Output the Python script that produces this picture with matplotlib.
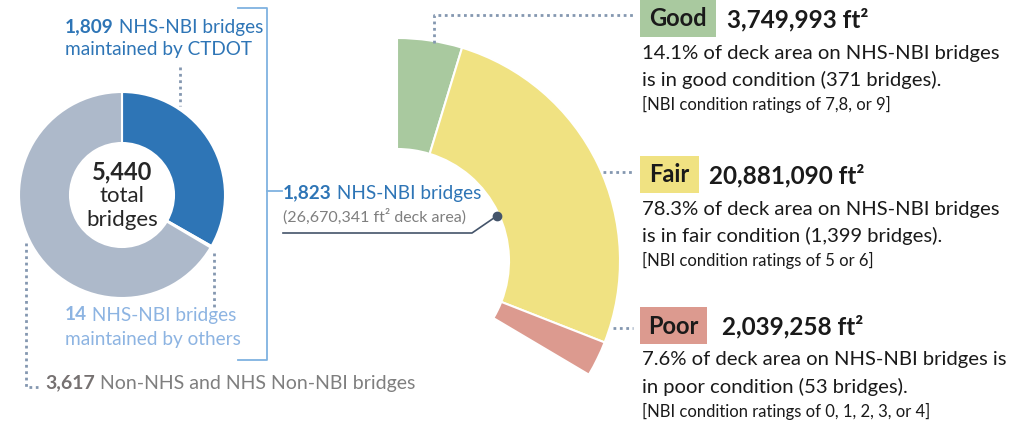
import matplotlib
matplotlib.use('Agg')
import matplotlib.pyplot as plt
import numpy as np
from matplotlib.patches import Rectangle

plt.rcParams['font.family'] = ['Lato', 'DejaVu Sans']

# data
total_bridges = 5440
donut_counts = [1809, 14, 3617]
nhs_nbi_bridges = 1823
deck_area_total = 26670341
condition_names = ['Good', 'Fair', 'Poor']
condition_area = [3749993, 20881090, 2039258]
condition_pct = [14.1, 78.3, 7.6]
condition_bridges = [371, 1399, 53]
condition_ratings = ['7,8, or 9', '5 or 6', '0, 1, 2, 3, or 4']

donut_colors = ['#2E75B6', '#5B9BD5', '#ADB9CA']
condition_colors = ['#A9C99F', '#F0E282', '#DC9A8F']
BLUE = '#2E75B6'
LIGHT_BLUE = '#8DB4E2'
GRAY = '#767171'
DOT = '#8497B0'

W, H = 1018, 422
fig = plt.figure(figsize=(W / 100, H / 100), dpi=100)
ax = fig.add_axes([0, 0, 1, 1])


def Y(py):
    return H - py


# left donut: all bridges
ax.pie(donut_counts, colors=donut_colors, startangle=90, counterclock=False,
       radius=103, center=(122, Y(195)),
       wedgeprops=dict(width=51, edgecolor='white', linewidth=1.5))

# middle ring: deck area of NHS-NBI bridges, spanning their share of the donut
ring_share = nhs_nbi_bridges / total_bridges
fracs = [a / deck_area_total * ring_share for a in condition_area]
ring_c = (397, Y(261))
wedges, _ = ax.pie(fracs, colors=condition_colors, normalize=False, startangle=90,
                   counterclock=False, radius=223, center=ring_c,
                   wedgeprops=dict(width=111, edgecolor='white', linewidth=1.5))

ax.set_xlim(0, W)
ax.set_ylim(0, H)
ax.set_aspect('equal')
ax.axis('off')

# leader dot on the inner edge of the fair wedge
fw = wedges[1]
mid = np.deg2rad((fw.theta1 + fw.theta2) / 2 - 1.5)
dx = ring_c[0] + 110 * np.cos(mid)
dy = ring_c[1] + 110 * np.sin(mid)
ax.plot([dx, 472, 283], [dy, Y(233), Y(233)], color='#44546A', lw=1.2)
ax.plot([dx], [dy], 'o', color='#44546A', ms=6)

# bracket
ax.plot([238, 267, 267, 238], [Y(8), Y(8), Y(360), Y(360)], color='#7FB2E0', lw=1.3)
ax.plot([267, 282], [Y(191), Y(191)], color='#7FB2E0', lw=1.3)

dots = dict(color=DOT, lw=2, dashes=(1, 1.3))
ax.plot([180, 180], [Y(67), Y(106)], **dots)
ax.plot([214, 214], [Y(253), Y(308)], **dots)
ax.plot([26, 26, 38], [Y(243), Y(387), Y(387)], **dots)
ax.plot([434, 434, 633], [Y(43), Y(15), Y(15)], **dots)
ax.plot([603, 633], [Y(172), Y(172)], **dots)
ax.plot([613, 633], [Y(328), Y(328)], **dots)


def two_part(x, py, bold, rest, color, size, color2=None):
    t = ax.text(x, Y(py), bold, color=color, fontsize=size, fontweight='bold', va='center')
    ax.annotate(rest, xy=(1, 0), xycoords=t, color=color2 or color, fontsize=size,
                va='bottom', ha='left')


two_part(65, 27, f'{donut_counts[0]:,}', ' NHS-NBI bridges', BLUE, 13.7)
ax.text(65, Y(50), 'maintained by CTDOT', color=BLUE, fontsize=13.7, va='center')
two_part(65, 315, f'{donut_counts[1]:,}', ' NHS-NBI bridges', LIGHT_BLUE, 13.7)
ax.text(65, Y(339), 'maintained by others', color=LIGHT_BLUE, fontsize=13.7, va='center')
two_part(45, 383, f'{donut_counts[2]:,}', ' Non-NHS and NHS Non-NBI bridges', GRAY, 14,
         '#7F7F7F')

ax.text(122, Y(172), f'{total_bridges:,}', fontsize=17, fontweight='bold', color='#262626',
        ha='center', va='center')
ax.text(122, Y(196), 'total', fontsize=16, color='#262626', ha='center', va='center')
ax.text(122, Y(220), 'bridges', fontsize=16, color='#262626', ha='center', va='center')

two_part(283, 193, f'{nhs_nbi_bridges:,}', ' NHS-NBI bridges', BLUE, 13.7)
ax.text(283, Y(217), f'({deck_area_total:,} ft² deck area)', fontsize=11.5, color='#7F7F7F',
        va='center')

# right-hand condition blocks
box_top = [0, 156, 307]
box_right = [716, 699, 707]
value_x = [727, 709, 722]
lines = [
    ['14.1% of deck area on NHS-NBI bridges', 'is in good condition (371 bridges).'],
    ['78.3% of deck area on NHS-NBI bridges', 'is in fair condition (1,399 bridges).'],
    ['7.6% of deck area on NHS-NBI bridges is', 'in poor condition (53 bridges).'],
]
for i, name in enumerate(condition_names):
    top = box_top[i]
    ax.add_patch(Rectangle((640, Y(top + 37)), box_right[i] - 640, 37,
                           color=condition_colors[i], lw=0))
    ax.text((640 + box_right[i]) / 2, Y(top + 19), name, fontsize=17, fontweight='bold',
            color='#1a1a1a', ha='center', va='center')
    ax.text(value_x[i], Y(top + 20), f'{condition_area[i]:,} ft²', fontsize=17.5,
            fontweight='bold', color='#1a1a1a', va='center')
    ax.text(642, Y(top + 53), lines[i][0], fontsize=14.6, color='#1a1a1a', va='center')
    ax.text(642, Y(top + 80), lines[i][1], fontsize=14.6, color='#1a1a1a', va='center')
    ax.text(642, Y(top + 104), f'[NBI condition ratings of {condition_ratings[i]}]',
            fontsize=12, color='#1a1a1a', va='center')

fig.savefig('out.png', dpi=100)
